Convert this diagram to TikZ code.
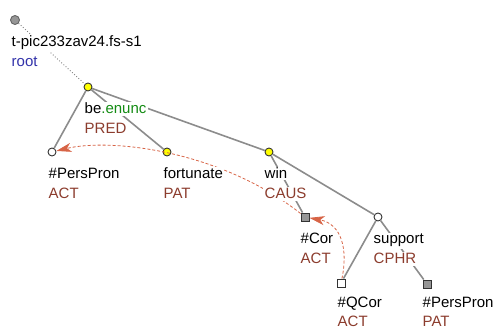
\documentclass[tikz,border=0pt]{standalone}
\usepackage{fontspec}
\setmainfont{Liberation Sans}
\usetikzlibrary{arrows.meta}
\definecolor{edgegray}{RGB}{140,140,140}
\definecolor{funcred}{RGB}{140,60,45}
\definecolor{rootblue}{RGB}{50,50,170}
\definecolor{enuncgreen}{RGB}{20,140,20}
\definecolor{corefred}{RGB}{215,100,70}
\definecolor{nodeyellow}{RGB}{255,255,0}
\definecolor{hidgray}{RGB}{150,150,150}
\begin{document}
\begin{tikzpicture}[
 x=1pt,y=-1pt,
 every node/.style={font=\fontsize{15}{18}\selectfont},
 dot/.style={circle,draw=black!80,line width=0.9pt,inner sep=0pt,minimum size=8pt},
 yel/.style={dot,fill=nodeyellow},
 hollow/.style={dot,fill=white},
 rootdot/.style={dot,fill=hidgray,draw=black!60,minimum size=9pt},
 sq/.style={rectangle,draw=black!80,line width=0.9pt,inner sep=0pt,minimum size=8pt},
 hidsq/.style={sq,fill=hidgray},
 opensq/.style={sq,fill=white},
 edge/.style={draw=edgegray,line width=1.6pt},
 coref/.style={draw=corefred,line width=0.8pt,dash pattern=on 3pt off 2pt,
  -{Stealth[length=15pt,width=9pt,inset=4pt]}},
 lbl/.style={anchor=base west,fill=white,inner sep=1.5pt,text=black},
 fn/.style={lbl,text=funcred}
]
 \useasboundingbox (0,0) rectangle (504,331);

 % node markers
 \node[rootdot] (root) at (15,20) {};
 \node[yel] (be) at (88,87) {};
 \node[hollow] (perspronA) at (52,152) {};
 \node[yel] (fortunate) at (167,152) {};
 \node[yel] (win) at (269,152) {};
 \node[hollow] (support) at (378,217) {};
 \node[hidsq] (cor) at (305,217) {};
 \node[opensq] (qcor) at (341,283) {};
 \node[hidsq] (perspronB) at (427,284) {};

 % tree edges
 \draw[draw=black!50,line width=0.9pt,dotted] (root) -- (be);
 \draw[edge] (be) -- (perspronA);
 \draw[edge] (be) -- (fortunate);
 \draw[edge] (be) -- (win);
 \draw[edge] (win) -- (support);
 \draw[edge] (win) -- (cor);
 \draw[edge] (support) -- (qcor);
 \draw[edge] (support) -- (perspronB);

 % coreference arrows
 \draw[coref] (cor) .. controls (220,150) and (110,138) .. (perspronA);
 \draw[coref] (qcor) .. controls (348,250) and (342,224) .. (cor);

 % labels
 \node[lbl] (root-w) at (10,47) {t-pic233zav24.fs-s1};
 \node[lbl,text=rootblue] (root-f) at (10,67) {root};
 \node[lbl] (be-w) at (83,114) {be\textcolor{enuncgreen}{.enunc}};
 \node[fn] (be-f) at (83,134) {PRED};
 \node[lbl] (perspronA-w) at (47,179) {\#PersPron};
 \node[fn] (perspronA-f) at (47,199) {ACT};
 \node[lbl] (fortunate-w) at (162,179) {fortunate};
 \node[fn] (fortunate-f) at (162,199) {PAT};
 \node[lbl] (win-w) at (263,179) {win};
 \node[fn] (win-f) at (263,199) {CAUS};
 \node[lbl] (cor-w) at (299,244) {\#Cor};
 \node[fn] (cor-f) at (299,264) {ACT};
 \node[lbl] (support-w) at (372,244) {support};
 \node[fn] (support-f) at (372,264) {CPHR};
 \node[lbl] (qcor-w) at (336,308) {\#QCor};
 \node[fn] (qcor-f) at (336,327) {ACT};
 \node[lbl] (perspronB-w) at (421,308) {\#PersPron};
 \node[fn] (perspronB-f) at (421,327) {PAT};
\end{tikzpicture}
\end{document}
